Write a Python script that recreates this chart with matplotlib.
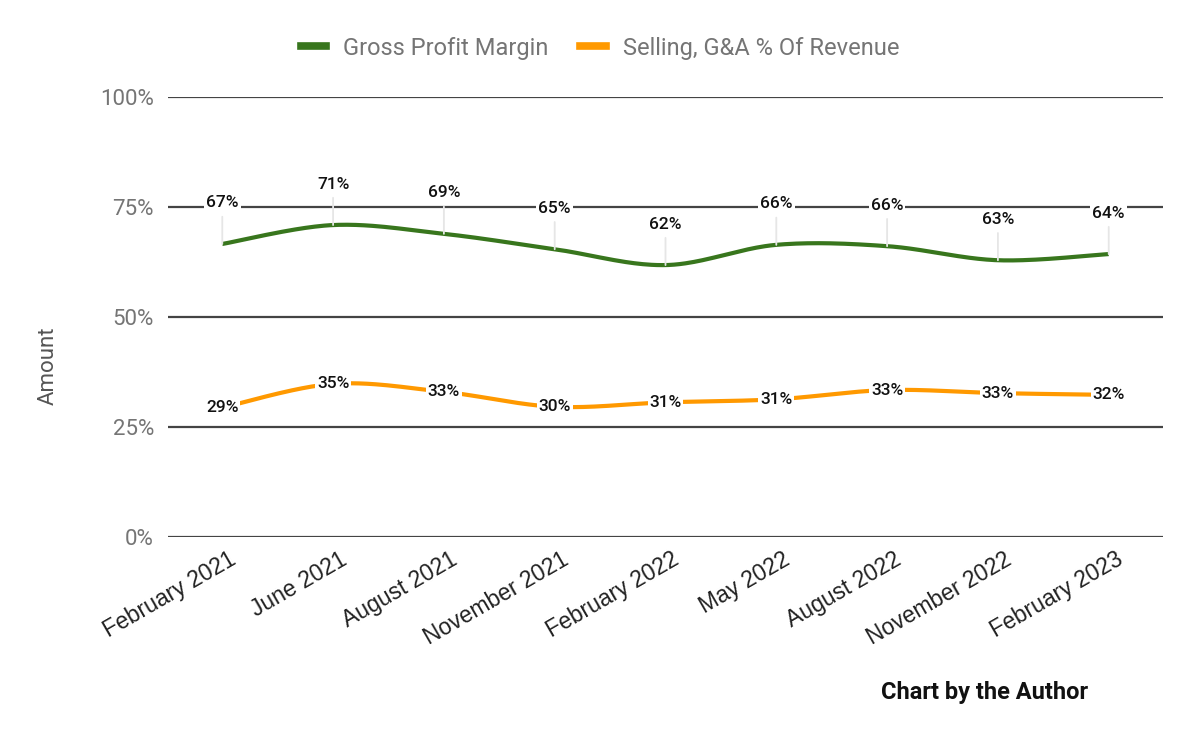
import numpy as np
import matplotlib
matplotlib.use('Agg')
import matplotlib.pyplot as plt
import matplotlib.transforms as mtransforms
from matplotlib.lines import Line2D

# data
periods = ['February 2021', 'June 2021', 'August 2021', 'November 2021',
           'February 2022', 'May 2022', 'August 2022', 'November 2022',
           'February 2023']
gross_margin = [66.6, 70.9, 68.9, 65.4, 61.8, 66.4, 66.1, 62.9, 64.3]
sga_pct = [29.4, 34.8, 33.0, 29.6, 30.6, 31.3, 33.4, 32.7, 32.3]
y_ticks = [0, 25, 50, 75, 100]

GREEN = '#38761d'
ORANGE = '#ff9900'


def smooth(xs, ys, n=40, tension=0.5):
    # cardinal spline through the points, like the curved lines in sheets
    xs = np.asarray(xs, float)
    ys = np.asarray(ys, float)
    px = np.concatenate([[xs[0]], xs, [xs[-1]]])
    py = np.concatenate([[ys[0]], ys, [ys[-1]]])
    out_x, out_y = [], []
    t = np.linspace(0, 1, n)
    h1 = 2*t**3 - 3*t**2 + 1
    h2 = -2*t**3 + 3*t**2
    h3 = t**3 - 2*t**2 + t
    h4 = t**3 - t**2
    for i in range(1, len(px) - 2):
        m1x = tension*(px[i+1] - px[i-1])
        m2x = tension*(px[i+2] - px[i])
        m1y = tension*(py[i+1] - py[i-1])
        m2y = tension*(py[i+2] - py[i])
        out_x.append(h1*px[i] + h2*px[i+1] + h3*m1x + h4*m2x)
        out_y.append(h1*py[i] + h2*py[i+1] + h3*m1y + h4*m2y)
    return np.concatenate(out_x), np.concatenate(out_y)


plt.rcParams['font.family'] = ['Roboto', 'DejaVu Sans']

fig = plt.figure(figsize=(12, 7.42), dpi=100)
ax = fig.add_axes([168/1200, 1 - 537/742, (1163-168)/1200, (537-97)/742])

x = np.arange(len(periods))

for yt in y_ticks:
    ax.axhline(yt, color='#444444', lw=1.6, zorder=1)

gx, gy = smooth(x, gross_margin)
ox, oy = smooth(x, sga_pct)
ax.plot(gx, gy, color=GREEN, lw=3.0, zorder=3, solid_capstyle='butt')
ax.plot(ox, oy, color=ORANGE, lw=3.0, zorder=3, solid_capstyle='butt')

label_kw = dict(ha='center', va='center', fontsize=12.5, fontweight='medium',
                color='#111111')
for xi, v in zip(x, gross_margin):
    ax.annotate(f'{v:.0f}%', xy=(xi, v), xytext=(0, 29.5),
                textcoords='offset points', zorder=4,
                bbox=dict(boxstyle='square,pad=0.12', fc='white', ec='none'),
                arrowprops=dict(arrowstyle='-', color='#e6e6e6', lw=1.3,
                                shrinkA=3, shrinkB=0),
                **label_kw)
for xi, v in zip(x, sga_pct):
    ax.annotate(f'{v:.0f}%', xy=(xi, v), xytext=(0, 0),
                textcoords='offset points', zorder=5,
                bbox=dict(boxstyle='square,pad=0.1', fc='white', ec='none'),
                **label_kw)

ax.set_xlim(-0.49, len(periods) - 0.51)
ax.set_ylim(0, 100)
ax.set_yticks(y_ticks)
ax.set_yticklabels([f'{t}%' for t in y_ticks], fontsize=16, color='#757575')
ax.set_xticks(x)
ax.set_xticklabels(periods, rotation=30, ha='right', va='center',
                   rotation_mode='anchor', fontsize=16.5, color='#222222',
                   family='Liberation Sans')
ax.tick_params(axis='both', length=0)
ax.tick_params(axis='y', pad=10)
ax.tick_params(axis='x', pad=0)
shift = mtransforms.ScaledTranslation(12/100, -21/100, fig.dpi_scale_trans)
for lab in ax.get_xticklabels():
    lab.set_transform(lab.get_transform() + shift)
for s in ax.spines.values():
    s.set_visible(False)

fig.text(48/1200, 1 - 366/742, 'Amount', rotation=90, ha='center', va='center',
         fontsize=16, color='#555555')

handles = [Line2D([], [], color=GREEN, lw=5.5), Line2D([], [], color=ORANGE, lw=5.5)]
fig.legend(handles, ['Gross Profit Margin', 'Selling, G&A % Of Revenue'],
           loc='center', bbox_to_anchor=(600/1200, 1 - 48/742), ncol=2,
           frameon=False, fontsize=17, labelcolor='#757575',
           handlelength=1.06, handletextpad=0.72, columnspacing=1.36)

fig.text(985/1200, 1 - 692/742, 'Chart by the Author', ha='center', va='center',
         fontsize=17, fontweight='bold', color='#111111')

fig.savefig('out.png', dpi=100)
